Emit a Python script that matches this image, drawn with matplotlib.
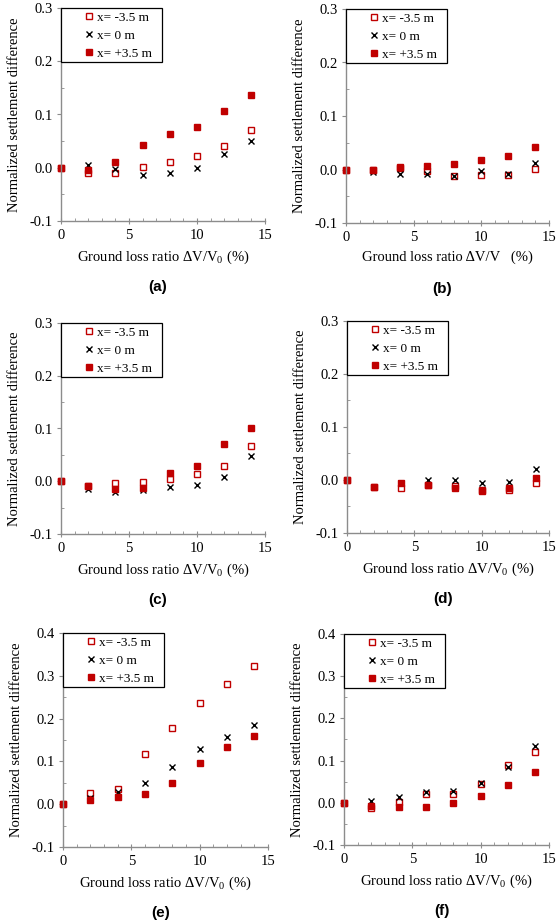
import numpy as np
import matplotlib
matplotlib.use('Agg')
import matplotlib.pyplot as plt
from matplotlib.ticker import MultipleLocator, FormatStrFormatter
from matplotlib.patches import Rectangle

plt.rcParams['font.family'] = ['Liberation Serif', 'DejaVu Serif']
plt.rcParams['mathtext.fontset'] = 'custom'
plt.rcParams['mathtext.rm'] = 'Liberation Serif'
plt.rcParams['axes.unicode_minus'] = False

# ground loss ratio (%)
loss = [0, 2, 4, 6, 8, 10, 12, 14]
series_names = ['x= -3.5 m', 'x= 0 m', 'x= +3.5 m']

# normalized settlement difference, one list per series, per panel
a_m35 = [0, -0.009, -0.009, 0.001, 0.010, 0.022, 0.041, 0.071]
a_0 = [0, 0.006, -0.003, -0.013, -0.009, 0.000, 0.025, 0.051]
a_p35 = [0, -0.004, 0.011, 0.043, 0.063, 0.076, 0.106, 0.137]

b_m35 = [0, -0.001, 0.002, -0.002, -0.012, -0.010, -0.011, 0.001]
b_0 = [0, -0.005, -0.008, -0.0075, -0.012, -0.002, -0.0075, 0.013]
b_p35 = [0, -0.001, 0.005, 0.007, 0.011, 0.017, 0.025, 0.042]

c_m35 = [0, -0.009, -0.004, -0.002, 0.004, 0.013, 0.028, 0.066]
c_0 = [0, -0.015, -0.020, -0.017, -0.011, -0.007, 0.008, 0.048]
c_p35 = [0, -0.009, -0.015, -0.013, 0.016, 0.029, 0.071, 0.101]

d_m35 = [0, -0.014, -0.016, -0.010, -0.011, -0.018, -0.018, -0.005]
d_0 = [0, -0.014, -0.006, 0.000, 0.000, -0.006, -0.003, 0.020]
d_p35 = [0, -0.013, -0.006, -0.010, -0.015, -0.020, -0.015, 0.003]

e_m35 = [0, 0.026, 0.036, 0.118, 0.178, 0.236, 0.280, 0.324]
e_0 = [0, 0.015, 0.028, 0.050, 0.088, 0.128, 0.158, 0.184]
e_p35 = [0, 0.009, 0.017, 0.025, 0.049, 0.096, 0.134, 0.159]

f_m35 = [0, -0.0125, 0.002, 0.021, 0.020, 0.044, 0.090, 0.120]
f_0 = [0, 0.004, 0.013, 0.025, 0.029, 0.048, 0.085, 0.134]
f_p35 = [0, -0.008, -0.009, -0.009, -0.001, 0.015, 0.041, 0.073]

panel_tags = ['(a)', '(b)', '(c)', '(d)', '(e)', '(f)']
panel_data = [(a_m35, a_0, a_p35), (b_m35, b_0, b_p35), (c_m35, c_0, c_p35),
              (d_m35, d_0, d_p35), (e_m35, e_0, e_p35), (f_m35, f_0, f_p35)]
y_tops = [0.3, 0.3, 0.3, 0.3, 0.4, 0.4]
x_labels = ['Ground loss ratio ΔV/V$_0$ (%)', 'Ground loss ratio ΔV/V   (%)',
            'Ground loss ratio ΔV/V$_0$ (%)', 'Ground loss ratio ΔV/V$_0$ (%)',
            'Ground loss ratio ΔV/V$_0$ (%)', 'Ground loss ratio ΔV/V$_0$ (%)']

# axes boxes in pixels: left, right, top, bottom
boxes = [(61, 265, 8, 221), (346, 549, 9, 223),
         (61, 265, 323, 534), (347, 549, 321, 533),
         (63, 268, 633, 847), (344, 549, 634, 845)]

W, H = 559, 922
fig = plt.figure(figsize=(W / 100, H / 100), dpi=100)
red = '#c00000'
grey = '#8c8c8c'

for i in range(6):
    L, R, T, B = boxes[i]
    ax = fig.add_axes([L / W, 1 - B / H, (R - L) / W, (B - T) / H])
    m35, m0, p35 = panel_data[i]
    ax.plot(loss, m35, ls='none', marker='s', ms=4, mfc='white', mec=red, mew=1.0, label=series_names[0], clip_on=False)
    ax.plot(loss, m0, ls='none', marker='x', ms=4.5, color='black', mew=1.0, label=series_names[1], clip_on=False)
    ax.plot(loss, p35, ls='none', marker='s', ms=4.5, color=red, label=series_names[2], clip_on=False)

    ax.set_xlim(0, 15)
    ax.set_ylim(-0.1, y_tops[i])
    ax.xaxis.set_major_locator(MultipleLocator(5))
    ax.xaxis.set_minor_locator(MultipleLocator(1))
    ax.yaxis.set_major_locator(MultipleLocator(0.1))
    ax.yaxis.set_minor_locator(MultipleLocator(0.05))
    ax.yaxis.set_major_formatter(FormatStrFormatter('%.1f'))
    for s in ['top', 'right']:
        ax.spines[s].set_visible(False)
    for s in ['left', 'bottom']:
        ax.spines[s].set_color(grey)
        ax.spines[s].set_linewidth(1.0)
    ax.tick_params(axis='x', which='major', direction='inout', length=5, color=grey, labelsize=10.5, pad=3)
    ax.tick_params(axis='x', which='minor', direction='in', length=2.5, color=grey)
    ax.tick_params(axis='y', which='major', direction='out', length=3, color=grey, labelsize=10.5, pad=3)
    ax.tick_params(axis='y', which='minor', direction='in', length=2.5, color=grey)
    ax.set_xlabel(x_labels[i], fontsize=10.5, labelpad=5)
    ax.set_ylabel('Normalized settlement difference', fontsize=10.5, labelpad=6)

    # legend box
    bw = 101 / (R - L)
    bh = 54 / (B - T)
    ax.add_patch(Rectangle((0, 1 - bh), bw, bh, transform=ax.transAxes, facecolor='white',
                           edgecolor='black', lw=0.9, clip_on=False, zorder=4))
    leg = ax.legend(loc='upper left', bbox_to_anchor=(19 / (R - L), 1.0), frameon=False,
                    fontsize=9.5, borderaxespad=0, borderpad=0.25, handlelength=0.8,
                    handletextpad=0.25, labelspacing=0.45, numpoints=1)
    leg.set_zorder(5)

    fig.text((L + R) / 2 / W - 5 / W, 1 - (B + 66) / H, panel_tags[i], ha='center', va='center',
             fontsize=11, fontweight='bold', family='Liberation Sans')

fig.savefig('out.png', dpi=100)
